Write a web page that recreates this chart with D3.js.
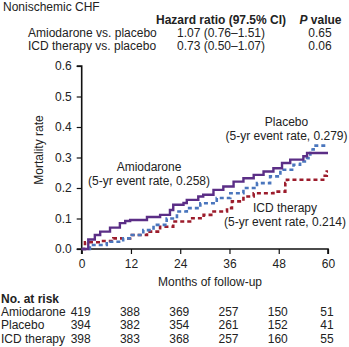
<!DOCTYPE html>
<html>
<head>
<meta charset="utf-8">
<script src="https://cdn.jsdelivr.net/npm/d3@7"></script>
<style>
  body { margin: 0; background: #fff; }
  svg { font-family: "Liberation Sans", Arial, sans-serif; font-size: 12px; fill: #222; }
  .bold { font-weight: bold; }
</style>
</head>
<body>
<svg id="chart" width="349" height="347"></svg>
<script>

// =========
// Data
// =========

var months_ticks = [0, 12, 24, 36, 48, 60];
var rate_ticks = [0.0, 0.1, 0.2, 0.3, 0.4, 0.5, 0.6];

// Kaplan-Meier steps: [month, cumulative mortality]
var amiodarone_steps = [
    [0, 0], [1.6, 0.031], [3.2, 0.046], [4.5, 0.057], [6.9, 0.070], [9.3, 0.085],
    [10.6, 0.092], [11.8, 0.095], [15.9, 0.105], [19.1, 0.112], [21.5, 0.128],
    [22.3, 0.145], [24.8, 0.151], [25.6, 0.161], [28.4, 0.172], [29.6, 0.178],
    [32.1, 0.194], [34.5, 0.205], [37.0, 0.221], [39.4, 0.232], [41.9, 0.243],
    [44.3, 0.254], [46.7, 0.265], [48.8, 0.282], [50.8, 0.293], [54.0, 0.304],
    [54.9, 0.315], [60, 0.315]
];
var placebo_steps = [
    [0, 0], [2.0, 0.013], [6.1, 0.024], [10.1, 0.035], [12.2, 0.046], [15.0, 0.062],
    [17.5, 0.079], [20.7, 0.100], [23.2, 0.123], [25.6, 0.134], [28.9, 0.150],
    [32.9, 0.167], [36.2, 0.183], [39.4, 0.200], [42.7, 0.216], [45.9, 0.238],
    [48.4, 0.260], [51.6, 0.276], [53.2, 0.287], [54.9, 0.298], [55.7, 0.326],
    [56.5, 0.339], [60, 0.339]
];
var icd_steps = [
    [0, 0], [0.8, 0.022], [4.5, 0.026], [7.7, 0.035], [11.8, 0.046], [15.9, 0.057],
    [19.1, 0.073], [22.3, 0.090], [26.4, 0.101], [29.7, 0.112], [32.1, 0.123],
    [35.4, 0.134], [36.6, 0.156], [39.4, 0.172], [41.9, 0.183], [46.7, 0.188],
    [49.6, 0.216], [50.0, 0.227], [59.2, 0.240], [59.7, 0.254], [60, 0.254]
];

var risk_groups = ['Amiodarone', 'Placebo', 'ICD therapy'];
var amiodarone_risk = [419, 388, 369, 257, 150, 51];
var placebo_risk = [394, 382, 354, 261, 152, 41];
var icd_risk = [398, 383, 368, 257, 160, 55];

var hr_rows = ['Amiodarone vs. placebo', 'ICD therapy vs. placebo'];
var hr_values = ['1.07 (0.76\u20131.51)', '0.73 (0.50\u20131.07)'];
var p_values = ['0.65', '0.06'];

// =========
// Layout
// =========

var svg = d3.select('#chart');
var plot = {left: 81.7, right: 328, top: 66, bottom: 249};

var x = d3.scaleLinear().domain([0, 60]).range([plot.left, plot.right]);
var y = d3.scaleLinear().domain([0, 0.6]).range([plot.bottom, plot.top]);

// =========
// Header table
// =========

svg.append('text').attr('x', 3).attr('y', 11).text('Nonischemic CHF');
svg.append('text').attr('class', 'bold').attr('x', 221).attr('y', 23.5)
    .attr('text-anchor', 'middle').text('Hazard ratio (97.5% CI)');
var ph = svg.append('text').attr('class', 'bold').attr('x', 320.5).attr('y', 23.5)
    .attr('text-anchor', 'middle');
ph.append('tspan').style('font-style', 'italic').text('P');
ph.append('tspan').text(' value');

hr_rows.forEach(function(r, i){
    var yy = 37 + i * 13.3;
    svg.append('text').attr('x', 28).attr('y', yy).text(r);
    svg.append('text').attr('x', 221).attr('y', yy).attr('text-anchor', 'middle').text(hr_values[i]);
    svg.append('text').attr('x', 320).attr('y', yy).attr('text-anchor', 'middle').text(p_values[i]);
});

// =========
// Axes
// =========

var y_axis = svg.append('g')
    .attr('transform', 'translate(' + plot.left + ',0)')
    .call(d3.axisLeft(y).tickValues(rate_ticks).tickFormat(d3.format('.1f')).tickSize(5).tickPadding(5));
var x_axis = svg.append('g')
    .attr('transform', 'translate(0,' + plot.bottom + ')')
    .call(d3.axisBottom(x).tickValues(months_ticks).tickSize(5).tickPadding(5));

[x_axis, y_axis].forEach(function(a){
    a.select('.domain').attr('stroke', '#111').attr('stroke-width', 1.6);
    a.selectAll('.tick line').attr('stroke', '#111').attr('stroke-width', 1.2);
    a.selectAll('.tick text').attr('fill', '#222')
        .style('font-family', '"Liberation Sans", Arial, sans-serif').style('font-size', '12px');
});
y_axis.select('.domain').attr('d', 'M-5,' + plot.top + 'H0V' + plot.bottom + 'H-5');
x_axis.select('.domain').attr('d', 'M' + plot.left + ',5V0H' + plot.right + 'V5');

svg.append('text')
    .attr('transform', 'translate(43,150) rotate(-90)')
    .attr('text-anchor', 'middle').text('Mortality rate');
svg.append('text').attr('x', 210).attr('y', 286)
    .attr('text-anchor', 'middle').text('Months of follow-up');

// =========
// Curves
// =========

var line = d3.line()
    .x(function(d){ return x(d[0]); })
    .y(function(d){ return y(d[1]); })
    .curve(d3.curveStepAfter);

svg.append('path').datum(icd_steps).attr('d', line)
    .attr('fill', 'none').attr('stroke', '#9c1c2c').attr('stroke-width', 2.6)
    .attr('stroke-dasharray', '4,3');
svg.append('path').datum(placebo_steps).attr('d', line)
    .attr('fill', 'none').attr('stroke', '#4a76bd').attr('stroke-width', 2.6)
    .attr('stroke-dasharray', '4,3');
svg.append('path').datum(amiodarone_steps).attr('d', line)
    .attr('fill', 'none').attr('stroke', '#5b2e86').attr('stroke-width', 2.4);

// curve labels
function curve_label(cx, cy, name, rate){
    svg.append('text').attr('x', cx).attr('y', cy).attr('text-anchor', 'middle').text(name);
    svg.append('text').attr('x', cx).attr('y', cy + 14).attr('text-anchor', 'middle')
        .text('(5-yr event rate, ' + rate + ')');
}
curve_label(149, 171, 'Amiodarone', '0.258');
curve_label(286.5, 126, 'Placebo', '0.279');
curve_label(285, 212, 'ICD therapy', '0.214');

// =========
// Number at risk
// =========

svg.append('text').attr('class', 'bold').attr('x', 1).attr('y', 302.5).text('No. at risk');
[amiodarone_risk, placebo_risk, icd_risk].forEach(function(row, i){
    var yy = 315.5 + i * 13.6;
    svg.append('text').attr('x', 1).attr('y', yy).text(risk_groups[i]);
    row.forEach(function(n, j){
        svg.append('text').attr('x', x(months_ticks[j]) - 1).attr('y', yy)
            .attr('text-anchor', 'middle').text(n);
    });
});

</script>
</body>
</html>
